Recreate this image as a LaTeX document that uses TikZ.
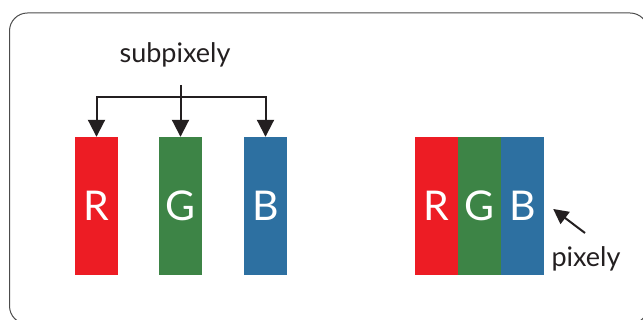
\documentclass[tikz,border=0pt]{standalone}
\usepackage{fontspec}
\setmainfont{Lato}
\usetikzlibrary{positioning,arrows.meta}

\definecolor{subred}{RGB}{237,28,36}
\definecolor{subgreen}{RGB}{61,132,70}
\definecolor{subblue}{RGB}{45,112,161}
\definecolor{ink}{RGB}{35,31,32}

\tikzset{
  bar/.style={minimum width=43pt,minimum height=138pt,inner sep=0pt,text=white,font=\fontsize{41}{41}\selectfont},
  lbl/.style={text=ink,inner sep=0pt,font=\fontsize{27}{27}\selectfont},
  stem/.style={draw=ink,line width=2pt},
  pointer/.style={stem,-{Triangle[width=17pt,length=17pt]}}
}

\begin{document}
\begin{tikzpicture}[x=1pt,y=1pt]
\useasboundingbox (0,0) rectangle (643,320);
\draw[gray!60!black,line width=1pt,rounded corners=18pt] (9.5,-4) rectangle (648,307);

% subpixels
\node[bar,fill=subred] (R) at (96.5,114) {R};
\node[bar,fill=subgreen] (G) at (180.5,114) {G};
\node[bar,fill=subblue] (B) at (265.5,114) {B};

% one pixel
\node[bar,fill=subred] (pR) at (436.5,114) {R};
\node[bar,fill=subgreen] (pG) at (479.5,114) {G};
\node[bar,fill=subblue] (pB) at (522.5,114) {B};

\node[lbl,anchor=base] (sub) at (175,257) {subpixely};
\node[lbl,anchor=base] (pix) at (586,53) {pixely};

\coordinate (top) at (180.5,235);
\coordinate (junc) at (180.5,223);
\coordinate (tail) at (585,87);

\draw[stem] (top)--(junc);
\draw[pointer] (junc) -| (R.north);
\draw[pointer] (junc) -- (G.north);
\draw[pointer] (junc) -| (B.north);

\draw[stem,-{Triangle[width=15pt,length=15pt]}] (tail)--([shift={(9,-3)}]pB.east);
\end{tikzpicture}
\end{document}
